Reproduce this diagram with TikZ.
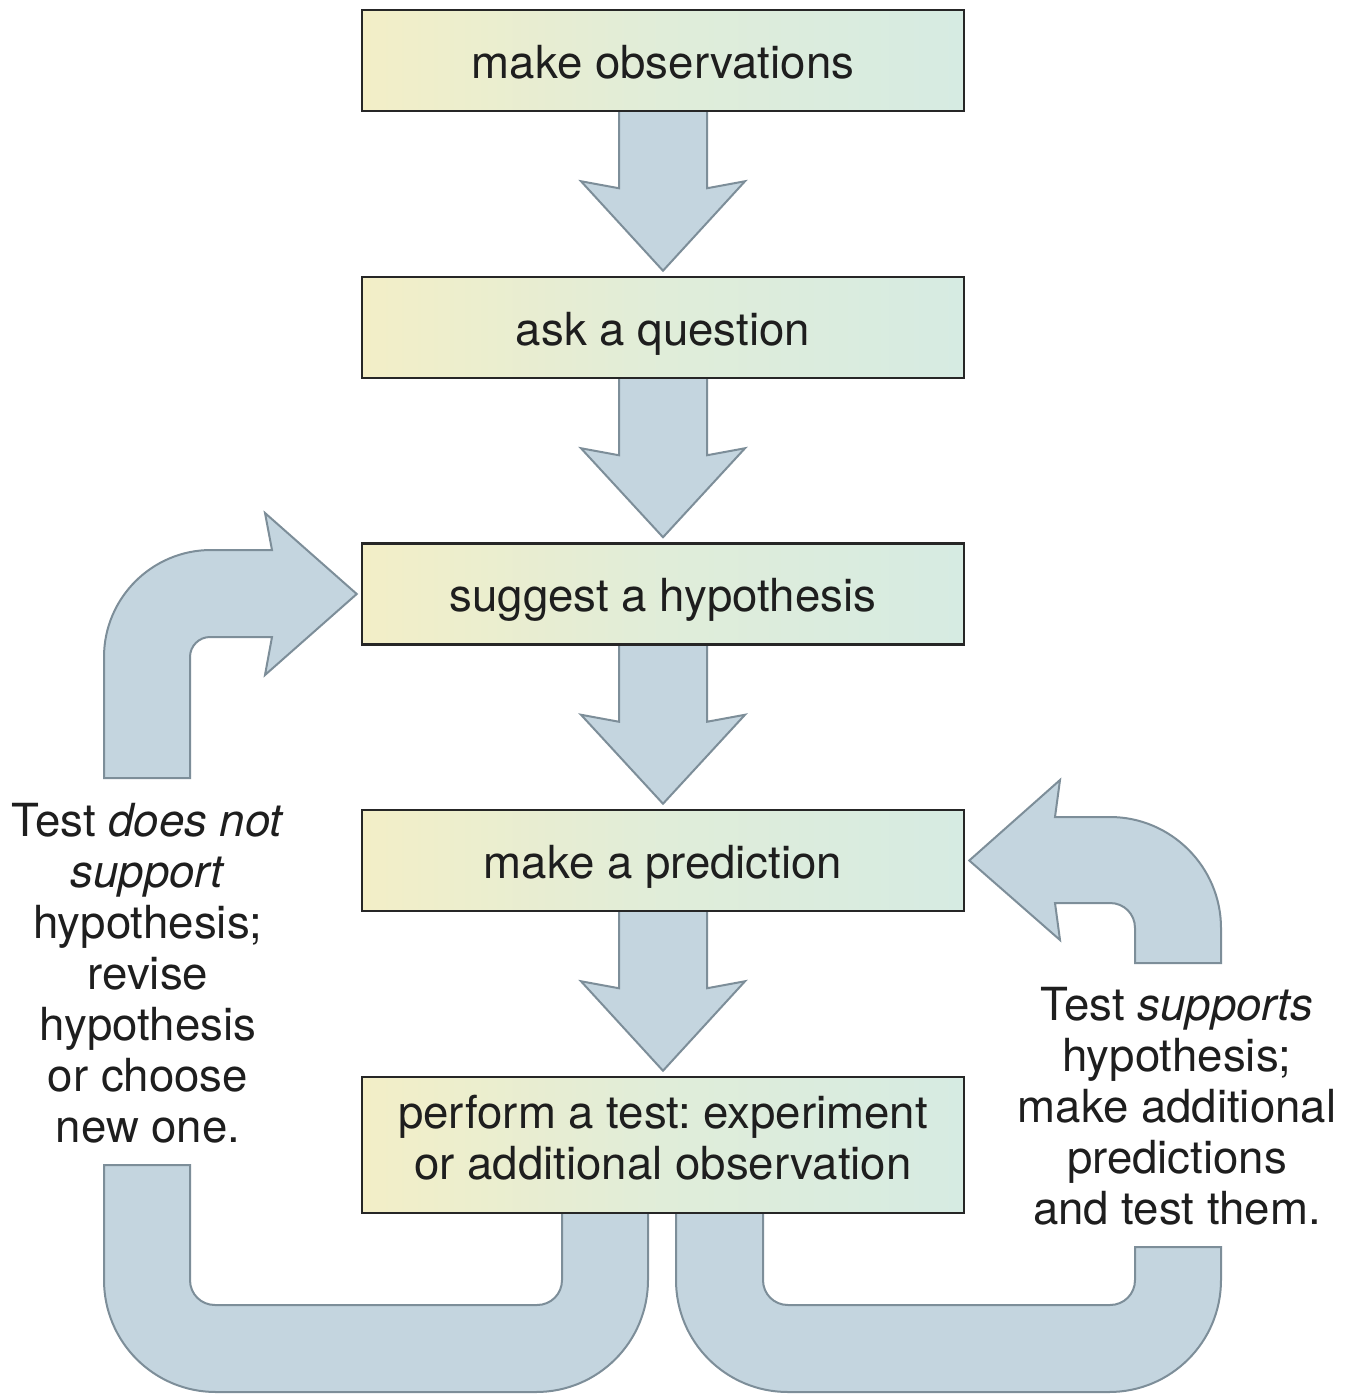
\documentclass[tikz,border=0pt]{standalone}
\usepackage{fontspec}
\setmainfont{TeX Gyre Heros}
\usetikzlibrary{calc}
\frenchspacing
\definecolor{arrfill}{HTML}{C4D5DF}
\definecolor{arrline}{HTML}{7D8E99}
\definecolor{boxL}{HTML}{F3EEC7}
\definecolor{boxM}{HTML}{E0EDD9}
\definecolor{boxR}{HTML}{D6EBE2}
\definecolor{txt}{HTML}{1E1E1E}
\pgfdeclarelayer{bg}
\pgfsetlayers{bg,main}
\newcommand\flowdown[2]{%
  \draw[blockarrow] ($(#1.south)+(-44,-2)$) -- ($(#1.south)+(-44,76)$) -- ($(#1.south)+(-82,69)$)
    -- ($(#2.north)+(0,-5)$) -- ($(#1.south)+(82,69)$) -- ($(#1.south)+(44,76)$)
    -- ($(#1.south)+(44,-2)$) -- cycle;}
\begin{document}
\begin{tikzpicture}[x=0.5pt,y=-0.5pt,
  stepbox/.style={draw=black!85, line width=1.25pt, minimum width=301pt, minimum height=50.5pt,
    left color=boxL, right color=boxR, middle color=boxM,
    font=\fontsize{22.8}{25.5}\selectfont, text=txt, align=center, inner sep=0pt},
  oneline/.style={text height=17.5pt, text depth=0pt},
  blockarrow/.style={fill=arrfill, draw=arrline, line width=1pt, line join=miter},
  sidetext/.style={font=\fontsize{22.8}{25.5}\selectfont, text=txt, align=center, inner sep=0pt}]
\useasboundingbox (0,0) rectangle (1352,1397);

\node[stepbox, oneline] (obs)  at (663,60.5)  {make observations};
\node[stepbox, oneline] (ques) at (663,327.5) {ask a question};
\node[stepbox, oneline] (hyp)  at (663,594)   {suggest a hypothesis};
\node[stepbox, oneline] (pred) at (663,860.5) {make a prediction};
\node[stepbox, minimum height=68pt, text depth=8pt] (test) at (663,1145) {perform a test: experiment\\or additional observation};

\node[sidetext] (nosup) at (148,973) {Test \textit{does not}\\\textit{support}\\hypothesis;\\revise\\hypothesis\\or choose\\new one.};
\node[sidetext] (sup) at (1177,1106) {Test \textit{supports}\\hypothesis;\\make additional\\predictions\\and test them.};

\begin{pgfonlayer}{bg}
\fill[white] (0,0) rectangle (1352,1397);
\flowdown{obs}{ques}
\flowdown{ques}{hyp}
\flowdown{hyp}{pred}
\flowdown{pred}{test}

% left bent arrow into hypothesis
\draw[blockarrow] (104,778) -- (104,657) .. controls (104,598) and (152,550) .. (211,550)
  -- (272,550) -- (265,513) -- ($(hyp.west)+(-4,0)$) -- (265,675) -- (272,637) -- (210,637)
  .. controls (199,637) and (190,646) .. (190,657) -- (190,778) -- cycle;

% right bent arrow into prediction
\draw[blockarrow] (1221,963) -- (1221,928) .. controls (1221,867) and (1171,817) .. (1110,817)
  -- (1055,817) -- (1060,780) -- ($(pred.east)+(4,0)$) -- (1060,940) -- (1055,903) -- (1110,903)
  .. controls (1124,903) and (1135,914) .. (1135,928) -- (1135,963) -- cycle;

% bottom left U
\draw[blockarrow] (104,1165) -- (104,1280) .. controls (104,1342) and (154,1392) .. (216,1392)
  -- (536,1392) .. controls (598,1392) and (648,1342) .. (648,1280) -- ($(test.south)+(-15,-13)$)
  -- ($(test.south)+(-101,-13)$) -- (562,1280) .. controls (562,1294) and (551,1305) .. (537,1305)
  -- (215,1305) .. controls (201,1305) and (190,1294) .. (190,1280) -- (190,1165) -- cycle;

% bottom right U
\draw[blockarrow] ($(test.south)+(13,-13)$) -- (676,1280) .. controls (676,1342) and (726,1392) .. (788,1392)
  -- (1109,1392) .. controls (1171,1392) and (1221,1342) .. (1221,1280) -- (1221,1247)
  -- (1135,1247) -- (1135,1280) .. controls (1135,1294) and (1124,1305) .. (1110,1305)
  -- (788,1305) .. controls (774,1305) and (763,1294) .. (763,1280) -- ($(test.south)+(100,-13)$) -- cycle;
\end{pgfonlayer}
\end{tikzpicture}
\end{document}
